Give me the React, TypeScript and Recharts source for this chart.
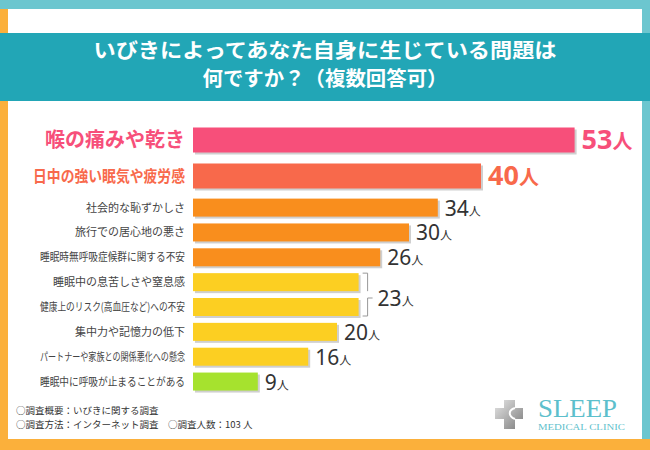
import { BarChart, Bar, XAxis, YAxis, Cell, LabelList } from 'recharts';

// top two answers (drawn bigger)
const topItems = ['喉の痛みや乾き', '日中の強い眠気や疲労感'];
const topValues = [53, 40];
const topColors = ['#f74f7a', '#f8694b'];

// remaining answers
const otherItems = [
  '社会的な恥ずかしさ',
  '旅行での居心地の悪さ',
  '睡眠時無呼吸症候群に関する不安',
  '睡眠中の息苦しさや窒息感',
  '健康上のリスク(高血圧など)への不安',
  '集中力や記憶力の低下',
  'パートナーや家族との関係悪化への懸念',
  '睡眠中に呼吸が止まることがある',
];
const otherValues = [34, 30, 26, 23, 23, 20, 16, 9];
const otherColors = ['#f98e1d', '#f98e1d', '#f98e1d', '#fccf22', '#fccf22', '#fccf22', '#fccf22', '#a6e22e'];

const unit = '人';
const titleLines = ['いびきによってあなた自身に生じている問題は', '何ですか？（複数回答可）'];
const notes = ['○調査概要：いびきに関する調査', '○調査方法：インターネット調査　○調査人数：103 人'];

const topData = topItems.map((name, i) => ({ name, value: topValues[i] }));
const otherData = otherItems.map((name, i) => ({ name, value: otherValues[i] }));

const JP = "'Noto Sans CJK JP', 'Noto Sans', sans-serif";
const NUM = "'Noto Sans', 'Noto Sans CJK JP', sans-serif";

function box(props: any) {
  const vb = props.viewBox || {};
  return {
    x: props.x ?? vb.x,
    y: props.y ?? vb.y,
    width: props.width ?? vb.width,
    height: props.height ?? vb.height,
  };
}

function ShadowBar(props: any) {
  const { x, y, width, height, fill, index, value, background } = props;
  const v = Array.isArray(value) ? value[1] : value;
  const end = x + width;
  const isTop = props.bracket && otherValues[index + 1] === v;
  const isBottom = props.bracket && otherValues[index - 1] === v;
  const bg = background || { y: y - 3.5, height: height + 7 };
  return (
    <g>
      <rect x={x + 2} y={y + 2} width={width} height={height} fill="#cfcfcf" />
      <rect x={x} y={y} width={width} height={height} fill={fill} />
      {isTop && (
        <path d={`M${end + 4},${y} H${end + 9} V${bg.y + bg.height}`} stroke="#999" fill="none" />
      )}
      {isBottom && (
        <g>
          <path d={`M${end + 9},${bg.y} V${y + height} H${end + 4} M${end + 9},${bg.y} H${end + 14}`} stroke="#999" fill="none" />
          <text x={end + 19} y={bg.y + 8} fill="#333" fontFamily={NUM}>
            <tspan fontSize={21}>{v}</tspan>
            <tspan fontSize={12} fontFamily={JP}>{unit}</tspan>
          </text>
        </g>
      )}
    </g>
  );
}

function TopNameLabel(props: any) {
  const { x, y, height } = box(props);
  const i = props.index;
  const cy = y + height / 2;
  if (i === 0) {
    return (
      <text x={x - 8} y={cy + 7} textAnchor="end" fill={topColors[0]} fontFamily={JP} fontWeight={700} fontSize={20}>
        {props.value}
      </text>
    );
  }
  return (
    <text x={x - 8} y={cy + 6} textAnchor="end" fill={topColors[1]} fontFamily={JP} fontWeight={700} fontSize={16}
      textLength={152} lengthAdjust="spacingAndGlyphs">
      {props.value}
    </text>
  );
}

function TopValueLabel(props: any) {
  const { x, y, width, height } = box(props);
  const i = props.index;
  return (
    <text x={x + width + 7} y={y + height / 2 + 9} fill={topColors[i]} fontFamily={NUM} fontWeight={700}>
      <tspan fontSize={27}>{props.value}</tspan>
      <tspan fontSize={20} fontFamily={JP}>{unit}</tspan>
    </text>
  );
}

function NameLabel(props: any) {
  const { x, y, height } = box(props);
  const name = String(props.value);
  const est = name.length * 11;
  return (
    <text x={x - 8} y={y + height / 2 + 4} textAnchor="end" fill="#444" fontFamily={JP} fontSize={11}
      {...(est > 145 ? { textLength: 145, lengthAdjust: 'spacingAndGlyphs' } : {})}>
      {name}
    </text>
  );
}

function ValueLabel(props: any) {
  const { x, y, width, height } = box(props);
  const i = props.index;
  const v = otherValues[i];
  if (otherValues[i + 1] === v || otherValues[i - 1] === v) return null;
  return (
    <text x={x + width + 7} y={y + height / 2 + 8} fill="#333" fontFamily={NUM}>
      <tspan fontSize={21}>{v}</tspan>
      <tspan fontSize={12} fontFamily={JP}>{unit}</tspan>
    </text>
  );
}

function Logo() {
  return (
    <svg width={150} height={40} style={{ position: 'absolute', left: 490, top: 395 }}>
      <defs>
        <linearGradient id="crossGrad" x1="0" y1="0" x2="1" y2="1">
          <stop offset="0%" stopColor="#e6e6e6" />
          <stop offset="100%" stopColor="#7d7d7d" />
        </linearGradient>
      </defs>
      <path d="M14,5 H25 V13 H33 V24 H25 V34 H14 V24 H5 V13 H14 Z" fill="url(#crossGrad)" />
      <path d="M25,13 C18,15 18,21 25,24" stroke="#fff" strokeWidth={2} fill="none" />
      <text x={48} y={22} fill="#5dbfcc" fontFamily="'Liberation Serif', serif" fontSize={25} textLength={79} lengthAdjust="spacingAndGlyphs">
        SLEEP
      </text>
      <text x={48} y={35} fill="#5dbfcc" fontFamily="'Liberation Serif', serif" fontSize={9} textLength={87} lengthAdjust="spacingAndGlyphs">
        MEDICAL CLINIC
      </text>
    </svg>
  );
}

export default function App() {
  return (
    <div style={{ position: 'absolute', left: 0, top: 0, width: 650, height: 450, background: '#fff', overflow: 'hidden' }}>
      {/* frame */}
      <div style={{ position: 'absolute', left: 0, top: 0, width: 650, height: 9, background: '#6cc6cf' }} />
      <div style={{ position: 'absolute', left: 0, top: 9, width: 8, height: 441, background: '#fbb03b' }} />
      <div style={{ position: 'absolute', left: 642, top: 0, width: 8, height: 450, background: '#6cc6cf' }} />
      <div style={{ position: 'absolute', left: 0, top: 439, width: 650, height: 11, background: '#fbb03b' }} />

      {/* title band */}
      <div style={{ position: 'absolute', left: 0, top: 33, width: 650, height: 68, background: '#22a6b6' }}>
        <svg width={650} height={68}>
          {titleLines.map((t, i) => (
            <text key={t} x={325} y={25 + i * 28} textAnchor="middle" fill="#fff" fontFamily={JP} fontWeight={700} fontSize={20}
              textLength={i === 0 ? 463 : 245} lengthAdjust="spacingAndGlyphs">
              {t}
            </text>
          ))}
        </svg>
      </div>

      <div style={{ position: 'absolute', left: 0, top: 0 }}>
        <BarChart width={650} height={200} data={topData} layout="vertical" barSize={25}
          margin={{ top: 121.5, bottom: 6.5, left: 193, right: 25 }}>
          <XAxis type="number" domain={[0, 60]} hide />
          <YAxis type="category" dataKey="name" hide />
          <Bar dataKey="value" isAnimationActive={false} shape={(p: any) => <ShadowBar {...p} />}>
            {topData.map((d, i) => (
              <Cell key={d.name} fill={topColors[i]} />
            ))}
            <LabelList dataKey="name" content={TopNameLabel} />
            <LabelList dataKey="value" content={TopValueLabel} />
          </Bar>
        </BarChart>
      </div>

      <div style={{ position: 'absolute', left: 0, top: 0 }}>
        <BarChart width={650} height={450} data={otherData} layout="vertical" barSize={18}
          margin={{ top: 195.6, bottom: 55.6, left: 193, right: 25 }}>
          <XAxis type="number" domain={[0, 60]} hide />
          <YAxis type="category" dataKey="name" hide />
          <Bar dataKey="value" isAnimationActive={false} shape={(p: any) => <ShadowBar {...p} bracket />}>
            {otherData.map((d, i) => (
              <Cell key={d.name} fill={otherColors[i]} />
            ))}
            <LabelList dataKey="name" content={NameLabel} />
            <LabelList dataKey="value" content={ValueLabel} />
          </Bar>
        </BarChart>
      </div>

      {/* survey notes */}
      <svg width={300} height={30} style={{ position: 'absolute', left: 14, top: 402 }}>
        {notes.map((n, i) => (
          <text key={n} x={2} y={12 + i * 14} fill="#333" fontFamily={JP} fontSize={9.5}>
            {n}
          </text>
        ))}
      </svg>

      <Logo />
    </div>
  );
}
